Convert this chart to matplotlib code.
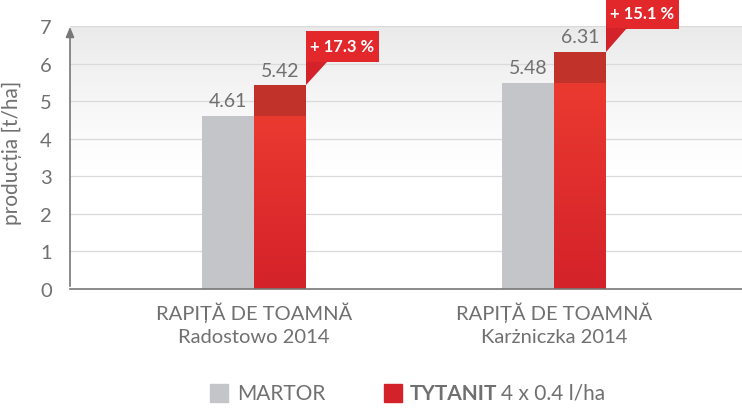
import numpy as np
import matplotlib.pyplot as plt
from matplotlib.patches import Rectangle, Polygon
from matplotlib.colors import LinearSegmentedColormap

plt.rcParams['font.family'] = ['Lato', 'DejaVu Sans']

categories = ["RAPIȚĂ DE TOAMNĂ\nRadostowo 2014", "RAPIȚĂ DE TOAMNĂ\nKarżniczka 2014"]
martor = [4.61, 5.48]
tytanit = [5.42, 6.31]
gains = ["+ 17.3 %", "+ 15.1 %"]

GREY = "#c4c5c8"
RED_TOP = "#c1322a"
TXT = "#707070"

fig = plt.figure(figsize=(7.42, 4.10), dpi=100)
ax = fig.add_axes([70 / 742, 120 / 410, 672 / 742, 263 / 410])
ax.set_xlim(-0.613, 1.627)
ax.set_ylim(0, 7)

# soft grey background fading downward
grad = np.linspace(0, 1, 256).reshape(-1, 1)
bg = np.ones((256, 1, 4))
bg[..., :3] = 0.92
bg[..., 3] = np.clip((grad[::-1] - 0.45) / 0.55, 0, 1) ** 1.2
ax.imshow(bg[::-1], extent=[-0.613, 1.627, 0, 7], aspect="auto", origin="lower", zorder=0)

for y in range(1, 8):
    ax.axhline(y, color="#dadada", lw=0.9, zorder=1)

w = 0.173
red_grad = np.linspace(0, 1, 100).reshape(-1, 1)
rcmap = LinearSegmentedColormap.from_list("r", ["#d4222a", "#ea3a30"])
for i, (m, t) in enumerate(zip(martor, tytanit)):
    xg = i - w
    ax.bar(xg, m, width=w, align="edge", color=GREY, zorder=2)
    ax.imshow(red_grad, cmap=rcmap, extent=[i, i + w, 0, m], aspect="auto",
              origin="lower", zorder=2)
    ax.bar(i, t - m, bottom=m, width=w, align="edge", color=RED_TOP, zorder=2)
    ax.text(i - w / 2, m + 0.18, f"{m:.2f}", ha="center", va="bottom",
            fontsize=14, color=TXT)
    ax.text(i + w / 2, t + 0.18, f"{t:.2f}", ha="center", va="bottom",
            fontsize=14, color=TXT)
    # callout
    x0 = i + w
    bx1 = x0 + 0.245
    by0 = t + 0.62
    by1 = t + 1.45
    ax.add_patch(Rectangle((x0, by0), bx1 - x0, by1 - by0, color="#e3282c",
                           zorder=3, clip_on=False, lw=0))
    ax.add_patch(Polygon([(x0, t), (x0, by0 + 0.01), (x0 + 0.07, by0 + 0.01)],
                         closed=True, color="#d4222a", zorder=3, clip_on=False, lw=0))
    ax.text((x0 + bx1) / 2, (by0 + by1) / 2, gains[i], ha="center", va="center",
            fontsize=12, color="white", fontweight="bold", zorder=4, clip_on=False)

ax.set_xticks([0, 1])
ax.set_xticklabels(categories, fontsize=14.5, color=TXT, linespacing=1.45)
ax.tick_params(axis="x", length=0, pad=9)
ax.set_yticks(range(8))
ax.tick_params(axis="y", length=0, labelsize=14.5, labelcolor=TXT, pad=13)
for s in ["top", "right"]:
    ax.spines[s].set_visible(False)
ax.spines["left"].set_visible(False)
ax.spines["bottom"].set_color("#777777")
ax.spines["bottom"].set_linewidth(1.2)
ax.annotate("", xy=(-0.613, 7.05), xytext=(-0.613, 0),
            arrowprops=dict(arrowstyle="-|>,head_width=0.25,head_length=0.6",
                            color="#777777", lw=1.2), annotation_clip=False, zorder=5)
ax.set_ylabel("producția [t/ha]", fontsize=15, color=TXT)
ax.yaxis.set_label_coords(-0.071, 0.52)

# legend
fig.patches.append(Rectangle((210 / 742, 1 - 403 / 410), 18 / 742, 18 / 410,
                             transform=fig.transFigure, color=GREY))
fig.text(237 / 742, 1 - 394 / 410, "MARTOR", fontsize=15, color=TXT, va="center")
fig.patches.append(Rectangle((384 / 742, 1 - 403 / 410), 18 / 742, 18 / 410,
                             transform=fig.transFigure, color="#d4222a"))
fig.text(410 / 742, 1 - 394 / 410, "TYTANIT", fontsize=15, color=TXT,
         va="center", fontweight="bold")
fig.text(501 / 742, 1 - 394 / 410, "4 x 0.4 l/ha", fontsize=15, color=TXT, va="center")

fig.savefig("out.png", dpi=100)
